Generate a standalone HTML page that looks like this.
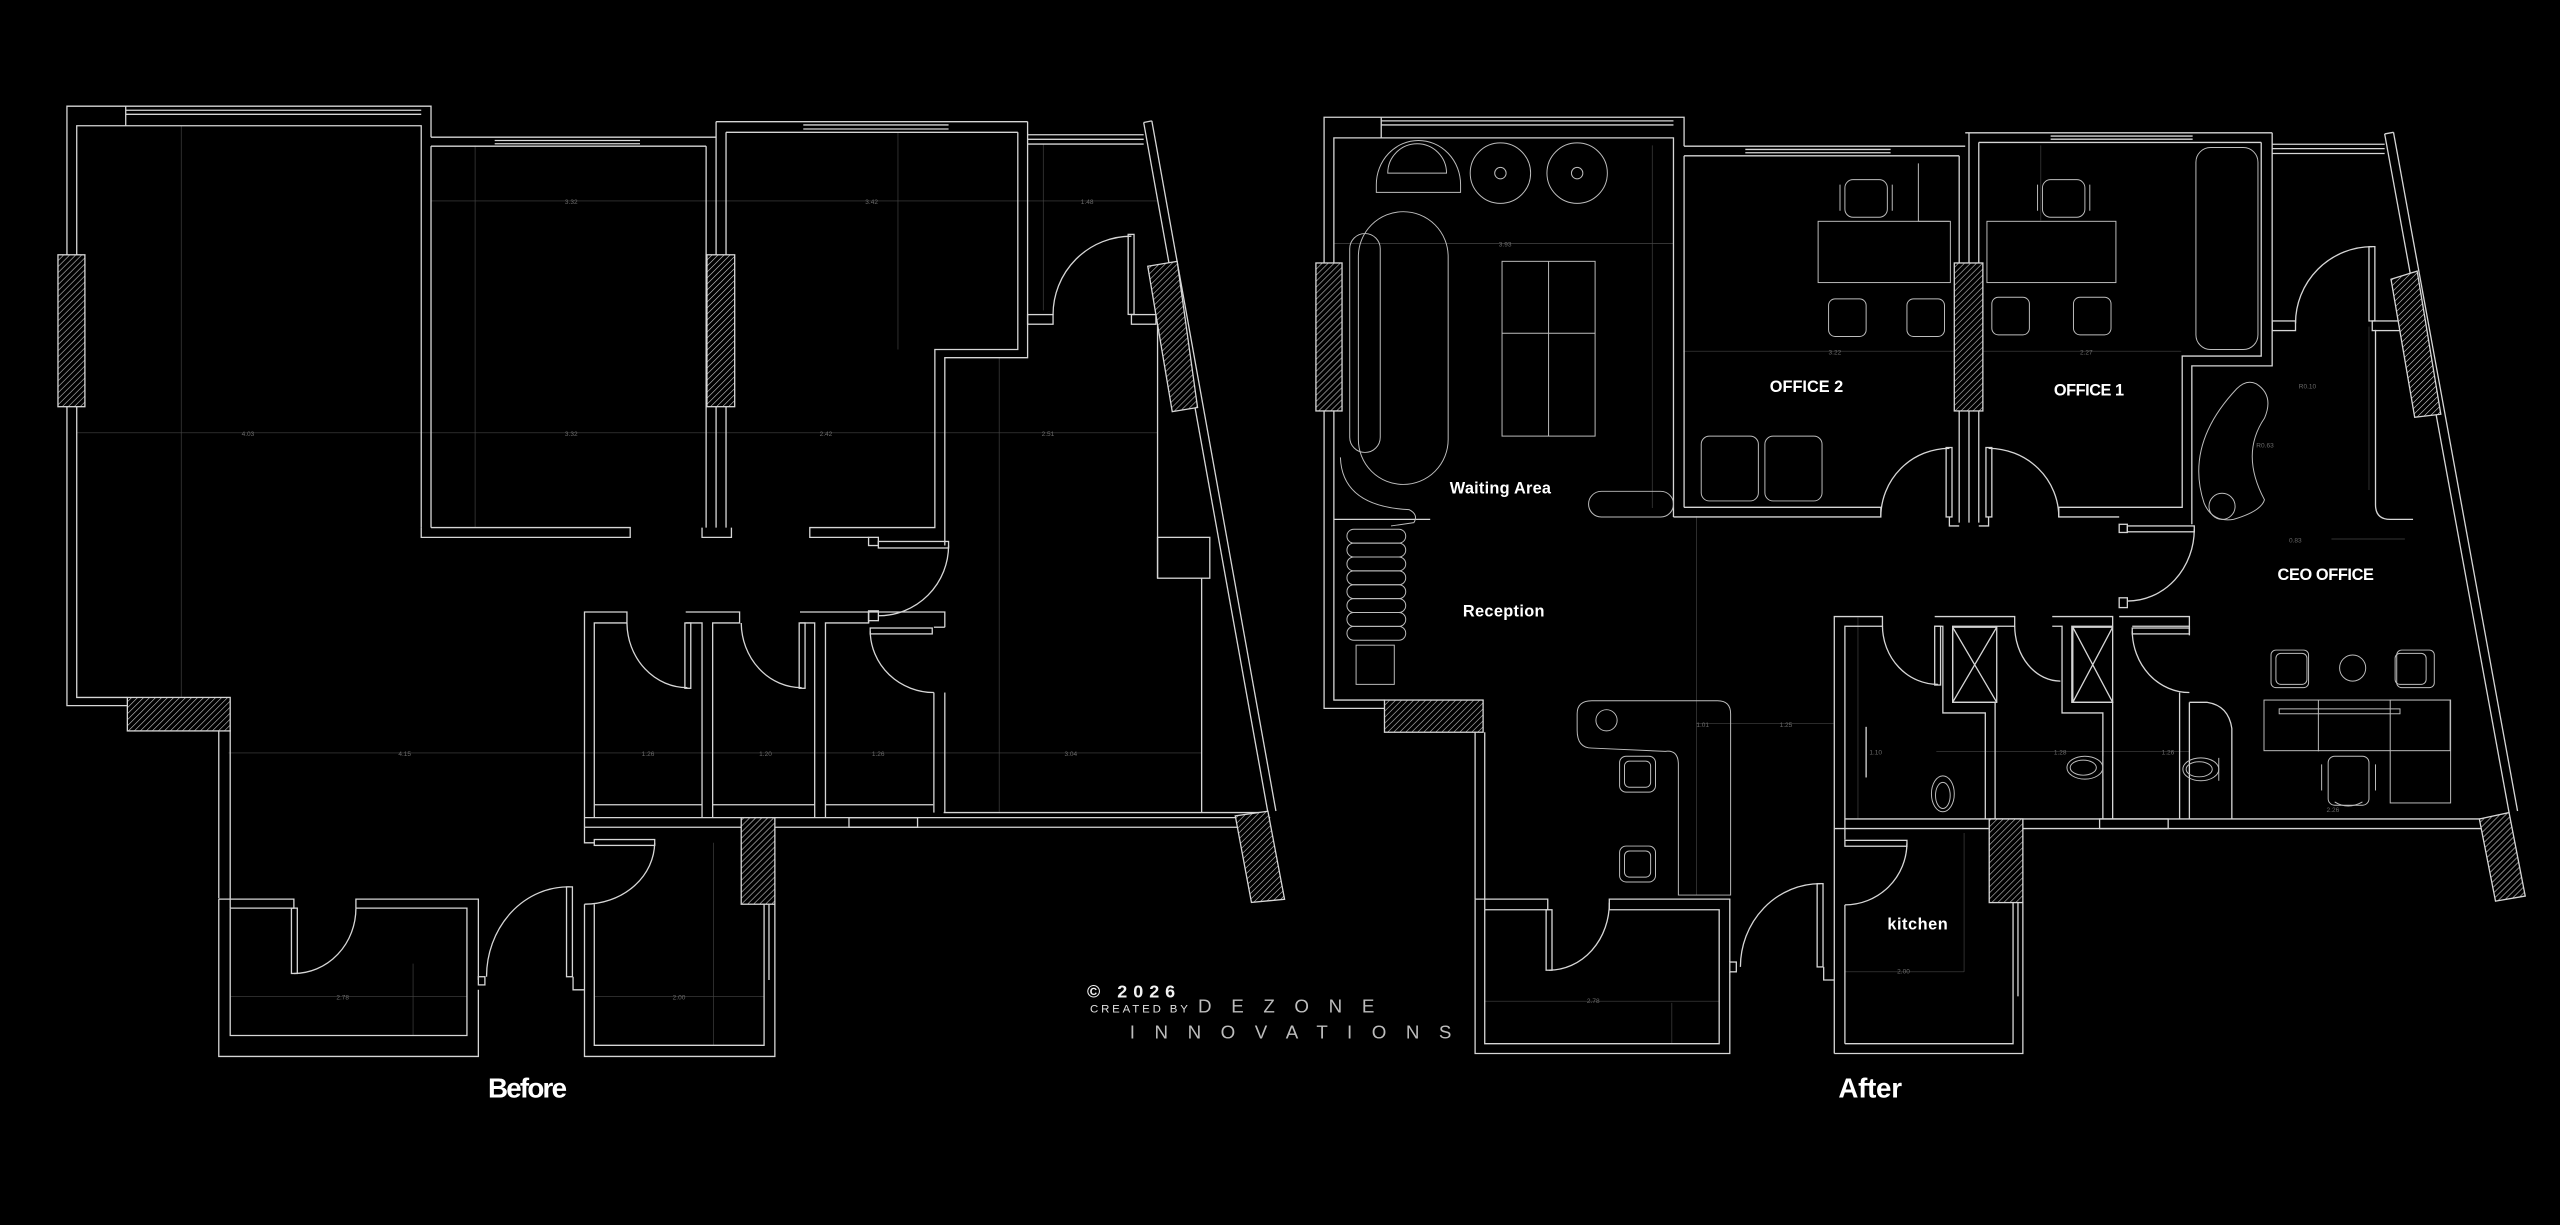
<!DOCTYPE html>
<html><head><meta charset="utf-8"><style>
html,body{margin:0;padding:0;background:#000;}
svg{display:block}
</style></head><body>
<svg width="2560" height="1225" viewBox="0 0 1568 750" xmlns="http://www.w3.org/2000/svg" preserveAspectRatio="none">
<defs>
<pattern id="h" patternUnits="userSpaceOnUse" width="2.6" height="2.6" patternTransform="rotate(45)">
<rect width="2.6" height="2.6" fill="#000"/><line x1="0" y1="0" x2="0" y2="2.6" stroke="#cfcfcf" stroke-width="0.7"/>
</pattern>
</defs>
<rect width="1568" height="750" fill="#000"/>

<!-- ===================== BEFORE ===================== -->
<g fill="none" stroke="#454545" stroke-width="0.4">
<line x1="47" y1="265" x2="709" y2="265"/>
<line x1="111" y1="77" x2="111" y2="427"/>
<line x1="264" y1="123" x2="709" y2="123"/>
<line x1="140" y1="461" x2="736" y2="461"/>
<line x1="291" y1="89" x2="291" y2="323"/>
<line x1="550" y1="81" x2="550" y2="214"/>
<line x1="639" y1="88" x2="639" y2="190"/>
<line x1="612" y1="219" x2="612" y2="497"/>
<line x1="253" y1="590" x2="253" y2="634"/>
<line x1="141" y1="610" x2="286" y2="610"/>
<line x1="364" y1="610" x2="468" y2="610"/>
<line x1="437" y1="516" x2="437" y2="640"/>
</g>
<g fill="#6a6a6a" font-family="Liberation Sans, sans-serif" font-size="4">
<text x="148" y="267">4.03</text><text x="346" y="267">3.32</text><text x="502" y="267">2.42</text><text x="638" y="267">2.51</text>
<text x="346" y="125">3.32</text><text x="530" y="125">3.42</text><text x="662" y="125">1.48</text>
<text x="244" y="463">4.15</text><text x="393" y="463">1.26</text><text x="465" y="463">1.20</text><text x="534" y="463">1.26</text><text x="652" y="463">3.04</text>
<text x="206" y="612">2.78</text><text x="412" y="612">2.00</text>
</g>
<g fill="none" stroke="#d6d6d6" stroke-width="0.8">
<!-- big left room -->
<polyline points="78,432 41,432 41,65 264,65 264,84"/>
<polyline points="78,427 47,427 47,77 258,77 258,323"/>
<line x1="77" y1="67.5" x2="258" y2="67.5"/><line x1="77" y1="70" x2="258" y2="70"/><line x1="77" y1="65" x2="77" y2="77"/>
<polyline points="134,447 134,550"/><polyline points="141,447 141,556"/>
<!-- middle room -->
<polyline points="264,84 438.6,84"/><line x1="264" y1="89.5" x2="432.5" y2="89.5"/>
<line x1="303" y1="86" x2="392" y2="86"/><line x1="303" y1="88" x2="392" y2="88"/>
<line x1="264" y1="89.5" x2="264" y2="323"/>
<line x1="432.5" y1="89.5" x2="432.5" y2="323"/><line x1="438.6" y1="74.5" x2="438.6" y2="323"/><line x1="444.7" y1="81" x2="444.7" y2="323"/>
<polyline points="264,323 386,323 386,329 258,329 258,323"/>
<polyline points="430,323 430,329 448,329 448,323"/>
<!-- room 2 -->
<line x1="438.6" y1="74.5" x2="629.4" y2="74.5"/><line x1="444.7" y1="81" x2="623.4" y2="81"/>
<line x1="492" y1="76.5" x2="581" y2="76.5"/><line x1="492" y1="79" x2="581" y2="79"/>
<polyline points="623.4,81 623.4,214 572.6,214 572.6,323 496,323 496,329 532,329"/>
<polyline points="629.4,74.5 629.4,219 578.7,219 578.7,334"/>
<!-- railing & slanted wall -->
<line x1="629.4" y1="82.5" x2="700.5" y2="82.5"/><line x1="629.4" y1="85.3" x2="700.5" y2="85.3"/><line x1="629.4" y1="88.2" x2="700.5" y2="88.2"/>
<line x1="700.5" y1="75" x2="776.6" y2="497.5"/><line x1="705.5" y1="74" x2="781.5" y2="496.5"/>
<line x1="700.5" y1="75" x2="705.5" y2="74"/>
<!-- entry door -->
<rect x="629.4" y="192.6" width="15.6" height="5.9"/><rect x="693" y="192.6" width="15" height="5.9"/>
<rect x="691" y="143.5" width="3.6" height="49"/>
<path d="M645,192.6 A48,48 0 0 1 693,144.6"/>
<!-- right inner -->
<line x1="709" y1="198.5" x2="709" y2="354"/><rect x="709" y="329" width="32" height="25"/>
<line x1="736" y1="354" x2="736" y2="497.5"/>
<!-- corridor door -->
<rect x="532" y="329" width="6" height="5"/><rect x="538" y="331.5" width="43" height="4"/>
<path d="M581,334 A43,43 0 0 1 538,377"/>
<rect x="532" y="374" width="6" height="6"/>
<!-- bottom walls -->
<line x1="578" y1="497.5" x2="776" y2="497.5"/>
<line x1="358" y1="500.6" x2="778" y2="500.6"/>
<line x1="358" y1="506.5" x2="454" y2="506.5"/><line x1="474.6" y1="506.5" x2="760" y2="506.5"/>
<rect x="520" y="500.6" width="42" height="5.9"/>
<!-- bathrooms -->
<polyline points="358,506.5 358,374.7 384,374.7 384,381.4 364,381.4 364,500.6"/>
<polyline points="420,381.4 430,381.4 430,500.6"/><polyline points="420,374.7 453,374.7 453,381.4 436.5,381.4 436.5,500.6"/>
<polyline points="490,381.4 499,381.4 499,500.6"/><polyline points="490,374.7 532,374.7 532,381.4 505.6,381.4 505.6,500.6"/>
<polyline points="532,381.4 532,374.7 578.7,374.7 578.7,384"/>
<line x1="572" y1="384" x2="578.7" y2="384"/>
<polyline points="572,424 572,497.5"/><polyline points="578.7,424 578.7,497.5"/>
<line x1="364" y1="492.7" x2="430" y2="492.7"/><line x1="436.5" y1="492.7" x2="499" y2="492.7"/><line x1="505.6" y1="492.7" x2="571.6" y2="492.7"/>
<rect x="419.5" y="381.4" width="3.6" height="40"/><path d="M384,381.4 A37,40 0 0 0 421,421"/>
<rect x="489.5" y="381.4" width="3.6" height="40"/><path d="M454,381.4 A37,40 0 0 0 491,421"/>
<rect x="533" y="384.5" width="38" height="3.6"/><path d="M533,386.5 A39,38 0 0 0 572,424"/>
<!-- lower left room -->
<polyline points="134,550.5 180,550.5 180,556 141,556"/>
<polyline points="218,556 218,550.5 293,550.5 293,600"/>
<polyline points="141,556 141,634 286,634 286,556 218,556"/>
<polyline points="134,550.5 134,646.8 293,646.8 293,606"/>
<rect x="178.5" y="556" width="3.6" height="40"/><path d="M180,596 A38,40 0 0 0 218,556"/>
<rect x="293" y="598" width="4" height="5"/>
<!-- lower middle room -->
<rect x="347" y="543" width="3.6" height="55"/><path d="M349,543 A50,55 0 0 0 298,598"/>
<polyline points="351,598 351,606 358,606"/>
<polyline points="358,553.6 358,646.8 474.6,646.8 474.6,553.6"/>
<polyline points="364,553.6 364,640 468,640 468,553.6"/>
<polyline points="358,506.5 358,516 364,516"/>
<rect x="364" y="514" width="37" height="3.6"/><path d="M401,516 A43,38 0 0 1 358,553.6"/>
<line x1="471" y1="553.6" x2="471" y2="600"/>
</g>
<g stroke="#d6d6d6" stroke-width="0.8" fill="url(#h)">
<rect x="35.5" y="156" width="16.5" height="93"/>
<rect x="433" y="156" width="17" height="93"/>
<rect x="78" y="427" width="63" height="20.5"/>
<rect x="454" y="500.6" width="20.6" height="53"/>
<polygon points="703,163 721,160 733.5,249.5 718,252"/>
<polygon points="756.6,499.5 776.6,496.7 786.8,550.6 766.5,552.5"/>
</g>

<!-- ===================== AFTER ===================== -->
<g fill="none" stroke="#454545" stroke-width="0.4">
<line x1="817" y1="149" x2="1025" y2="149"/>
<line x1="1031" y1="215" x2="1336" y2="215"/>
<line x1="1039" y1="443" x2="1123" y2="443"/>
<line x1="1186" y1="460" x2="1341" y2="460"/>
<line x1="1039" y1="316" x2="1039" y2="548"/>
<line x1="1012" y1="89" x2="1012" y2="311"/>
<line x1="1250" y1="89" x2="1250" y2="135"/>
<line x1="1451" y1="200" x2="1451" y2="300"/>
<line x1="1428" y1="330" x2="1473" y2="330"/>
<line x1="1024" y1="614" x2="1024" y2="639"/>
<line x1="909" y1="613" x2="1053" y2="613"/>
<line x1="1130" y1="595" x2="1203" y2="595"/>
<line x1="1203" y1="510" x2="1203" y2="595"/>
<line x1="1138" y1="378" x2="1138" y2="501"/>
</g>
<g fill="#6a6a6a" font-family="Liberation Sans, sans-serif" font-size="4">
<text x="918" y="151">3.93</text><text x="1120" y="217">3.22</text><text x="1274" y="217">2.27</text>
<text x="1039" y="445">1.01</text><text x="1090" y="445">1.25</text><text x="1145" y="462">1.10</text><text x="1258" y="462">1.28</text><text x="1324" y="462">1.26</text>
<text x="1402" y="332">0.83</text><text x="1425" y="497">2.26</text><text x="972" y="614">2.78</text><text x="1162" y="596">2.00</text>
<text x="1408" y="238">R0.10</text><text x="1382" y="274">R0.63</text>
</g>
<g fill="none" stroke="#d6d6d6" stroke-width="0.8">
<!-- waiting room shell -->
<polyline points="848,433.7 811,433.7 811,71.8 1031.5,71.8 1031.5,89.5"/>
<polyline points="848,428.6 817,428.6 817,84.4 1025,84.4 1025,316.5"/>
<line x1="846" y1="74" x2="1025" y2="74"/><line x1="846" y1="76.5" x2="1025" y2="76.5"/><line x1="846" y1="71.8" x2="846" y2="84.4"/>
<line x1="903.5" y1="448.3" x2="903.5" y2="550.5"/><line x1="909.4" y1="448.3" x2="909.4" y2="557"/>
<line x1="817" y1="318" x2="876" y2="318"/>
<!-- office 2 -->
<line x1="1031.5" y1="89.5" x2="1203.7" y2="89.5"/><line x1="1031.5" y1="95.4" x2="1200" y2="95.4"/>
<line x1="1069" y1="91.5" x2="1158" y2="91.5"/><line x1="1069" y1="93.5" x2="1158" y2="93.5"/>
<line x1="1031.5" y1="95.4" x2="1031.5" y2="310.6"/>
<polyline points="1031.5,310.6 1152,310.6 1152,316.5 1025,316.5"/>
<line x1="1200" y1="95.4" x2="1200" y2="320"/><line x1="1206" y1="81.3" x2="1206" y2="320"/><line x1="1212" y1="87.2" x2="1212" y2="320"/>
<polyline points="1194,316.5 1194,322 1200,322"/><polyline points="1212,322 1218,322 1218,316.5"/>
<!-- office 1 -->
<line x1="1203.7" y1="81.3" x2="1391.7" y2="81.3"/><line x1="1212" y1="87.2" x2="1385" y2="87.2"/>
<line x1="1256" y1="83.3" x2="1343" y2="83.3"/><line x1="1256" y1="85.2" x2="1343" y2="85.2"/>
<polyline points="1385,87.2 1385,218 1336.6,218 1336.6,310.6 1261,310.6 1261,316.5 1298,316.5"/>
<polyline points="1391.7,81.3 1391.7,224 1342.5,224 1342.5,321"/>
<!-- doors offices -->
<rect x="1192" y="274" width="3.6" height="42.5"/><path d="M1152,316.5 A42,42 0 0 1 1194,274.5"/>
<rect x="1216.4" y="274" width="3.6" height="42.5"/><path d="M1218,274.5 A43,42 0 0 1 1261,316.5"/>
<!-- CEO door -->
<rect x="1298" y="321" width="5" height="5"/><rect x="1303" y="322" width="41" height="3.6"/>
<path d="M1344,324 A41,44 0 0 1 1303,368"/><rect x="1298" y="366" width="5" height="6"/>
<!-- railing & slanted -->
<line x1="1391.7" y1="88.3" x2="1460.6" y2="88.3"/><line x1="1391.7" y1="91" x2="1460.6" y2="91"/><line x1="1391.7" y1="94" x2="1460.6" y2="94"/>
<line x1="1460.6" y1="82" x2="1536.8" y2="497.5"/><line x1="1466" y1="81" x2="1542" y2="496.5"/><line x1="1460.6" y1="82" x2="1466" y2="81"/>
<!-- entry -->
<rect x="1391.7" y="196.5" width="14.3" height="5.9"/><rect x="1453" y="196.5" width="17" height="5.9"/>
<rect x="1451" y="151" width="3.6" height="45.5"/><path d="M1406,198 A47,47 0 0 1 1453,151"/>
<path d="M1455,202 L1455,309 Q1455,318 1464,318 L1478,318"/>
<!-- bottom -->
<line x1="1130" y1="501.4" x2="1536" y2="501.4"/><line x1="1239" y1="507.3" x2="1520" y2="507.3"/>
<rect x="1286" y="501.4" width="42" height="5.9"/>
<!-- bathrooms -->
<polyline points="1123.5,645 1123.5,377.5 1153,377.5 1153,383.4 1130,383.4 1130,501.4"/>
<polyline points="1185,383.4 1190,383.4 1190,436.5 1216,436.5 1216,501.4"/>
<polyline points="1185,377.5 1234,377.5 1234,383.4 1196,383.4 1196,430 1222,430 1222,501.4"/>
<polyline points="1257,383.4 1263,383.4 1263,436.5 1288,436.5 1288,501.4"/>
<polyline points="1257,377.5 1294,377.5 1294,383.4 1269,383.4 1269,430 1294,430 1294,501.4"/>
<polyline points="1298,377.5 1341,377.5 1341,383.4 1306,383.4"/>
<line x1="1341" y1="383.4" x2="1341" y2="389"/>
<path d="M1335,424 L1335,501.4 M1341,430 L1341,501.4 M1341,430 L1352,430 Q1365,432 1367,446 L1367,501.4"/>
<rect x="1196" y="384" width="27" height="46"/><path d="M1196,384 L1223,430 M1223,384 L1196,430"/>
<rect x="1269.6" y="384" width="24.4" height="46"/><path d="M1269.6,384 L1294,430 M1294,384 L1269.6,430"/>
<path d="M1153,383.4 A34,36 0 0 0 1187,419"/><rect x="1185" y="383.4" width="3.6" height="36"/>
<path d="M1234,383.4 A28,34 0 0 0 1262,417"/>
<rect x="1306" y="384.5" width="35" height="3.6"/><path d="M1306,386.5 A35,38 0 0 0 1341,424"/>
<line x1="1143" y1="445" x2="1143" y2="476"/>
<!-- kitchen -->
<line x1="1130" y1="501.4" x2="1130" y2="514"/><line x1="1130" y1="554" x2="1130" y2="639"/>
<polyline points="1123.5,645 1239,645 1239,552.6"/><polyline points="1130,639 1233,639 1233,552.6"/>
<line x1="1123.5" y1="507.3" x2="1218" y2="507.3"/>
<rect x="1130" y="514.5" width="38" height="3.6"/><path d="M1168,516.4 A38,38 0 0 1 1130,554"/>
<line x1="1236" y1="552.6" x2="1236" y2="610"/>
<!-- lower-left -->
<rect x="1113" y="541" width="3.6" height="51"/><path d="M1115,541 A49,51 0 0 0 1066,592"/>
<polyline points="1117,592 1117,600 1123.5,600"/><rect x="1059.5" y="589" width="4" height="6"/>
<polyline points="903.5,550.5 948,550.5 948,557 909.4,557"/>
<polyline points="985.7,557 985.7,550.5 1059.5,550.5 1059.5,589"/>
<polyline points="1059.5,595 1059.5,645 903.5,645 903.5,550.5"/>
<polyline points="909.4,557 909.4,639 1053,639 1053,557 985.7,557"/>
<rect x="947" y="557" width="3.6" height="37"/><path d="M948.8,594 A37,41 0 0 0 985.7,552.6"/>
</g>
<g stroke="#d6d6d6" stroke-width="0.8" fill="url(#h)">
<rect x="806" y="161" width="16" height="90.6"/>
<rect x="1197" y="161" width="17.5" height="90.6"/>
<rect x="848" y="428.6" width="60.4" height="19.7"/>
<rect x="1218.4" y="501.4" width="20.6" height="51.2"/>
<polygon points="1464.5,171 1480.5,166 1495,253.6 1479,255.5"/>
<polygon points="1518.6,501.4 1536.8,497.5 1546.7,548.6 1528.5,551.7"/>
</g>

<!-- furniture -->
<g fill="none" stroke="#bdbdbd" stroke-width="0.6">
<path d="M843,117.8 L894.6,117.8 L894.6,113 A25.8,27 0 0 0 843,113 Z"/>
<path d="M850,106 A18,18 0 0 1 886,106 Z"/>
<circle cx="919" cy="106" r="18.5"/><circle cx="919" cy="106" r="3.5"/>
<circle cx="966" cy="106" r="18.5"/><circle cx="966" cy="106" r="3.5"/>
<rect x="832" y="129.6" width="55" height="167" rx="27.5"/>
<rect x="826.7" y="143" width="18.7" height="134" rx="9.3"/>
<path d="M821,280 Q822,310 863,312 Q869,315 866,320 L852,322"/>
<rect x="920" y="160" width="57" height="107"/><line x1="948.5" y1="160" x2="948.5" y2="267"/><line x1="920" y1="204" x2="977" y2="204"/>
<rect x="973" y="300.8" width="52" height="15.7" rx="7.8"/>
<g>
<rect x="825" y="324" width="36" height="8.5" rx="4.2"/><rect x="825" y="332.5" width="36" height="8.5" rx="4.2"/>
<rect x="825" y="341" width="36" height="8.5" rx="4.2"/><rect x="825" y="349.5" width="36" height="8.5" rx="4.2"/>
<rect x="825" y="358" width="36" height="8.5" rx="4.2"/><rect x="825" y="366.5" width="36" height="8.5" rx="4.2"/>
<rect x="825" y="375" width="36" height="8.5" rx="4.2"/><rect x="825" y="383.5" width="36" height="8.5" rx="4.2"/>
</g>
<rect x="830.6" y="395" width="23.4" height="24"/>
<!-- reception desk -->
<path d="M975,458 Q966,458 966,447 L966,437 Q966,429 975,429 L1052,429 Q1060,429 1060,437 L1060,548 L1028,548 L1028,468 Q1028,459 1020,460 L975,458"/>
<circle cx="984" cy="441" r="6.5"/>
<rect x="992" y="463" width="22" height="22" rx="4"/><rect x="995" y="466" width="16" height="16" rx="3"/>
<rect x="992" y="518" width="22" height="22" rx="4"/><rect x="995" y="521" width="16" height="16" rx="3"/>
<!-- office 2 -->
<rect x="1130" y="110" width="26" height="23" rx="5"/><path d="M1127,113 L1127,129 M1159,113 L1159,129"/>
<rect x="1113.6" y="135.5" width="81" height="37.5"/><path d="M1175,100 L1175,135.5 L1194,135.5"/>
<rect x="1120" y="183" width="23" height="23" rx="4"/><rect x="1168" y="183" width="23" height="23" rx="4"/>
<rect x="1042" y="267" width="35" height="39.7" rx="5"/><rect x="1081" y="267" width="35" height="39.7" rx="5"/>
<!-- office 1 -->
<rect x="1251" y="110" width="26" height="23" rx="5"/><path d="M1248,113 L1248,129 M1280,113 L1280,129"/>
<rect x="1217" y="135.5" width="79" height="37.5"/>
<rect x="1220" y="182" width="23" height="23" rx="4"/><rect x="1270" y="182" width="23" height="23" rx="4"/>
<rect x="1345" y="90.3" width="38" height="123.7" rx="9"/>
<!-- CEO -->
<path d="M1382,235 Q1393,242 1387,256 Q1372,278 1387,306 Q1385,313 1368,318 Q1355,320 1350,308 Q1338,272 1370,238 Q1376,232 1382,235 Z"/>
<circle cx="1361" cy="310" r="8"/>
<rect x="1388" y="644" width="0" height="0"/>
<rect x="1387" y="643" width="0" height="0"/>
<rect x="1389" y="642" width="0" height="0"/>
<rect x="1388" y="643" width="0" height="0"/>
<rect x="1388" y="643" width="0" height="0"/>
<rect x="1388" y="643" width="0" height="0"/>
<rect x="1388" y="645" width="0" height="0"/>
<rect x="1388" y="644" width="0" height="0"/>
<rect x="1388" y="643" width="0" height="0"/>
<rect x="1388" y="643" width="0" height="0"/>
<rect x="1388" y="643" width="0" height="0"/>
<rect x="1391" y="398" width="23" height="23" rx="3"/><rect x="1394" y="400" width="19" height="19" rx="3"/>
<rect x="1468" y="398" width="23" height="23" rx="3"/><rect x="1467" y="400" width="19" height="19" rx="3"/>
<circle cx="1441" cy="409" r="8"/>
<rect x="1386.7" y="428.6" width="114" height="31"/><line x1="1420" y1="428.6" x2="1420" y2="460"/>
<rect x="1396" y="434" width="74" height="3"/>
<rect x="1464" y="428.6" width="37" height="63"/>
<rect x="1426" y="463" width="25" height="30" rx="4"/><path d="M1422,468 L1422,484 M1455,468 L1455,484"/>
<path d="M1430,491 Q1438,496 1447,491"/>
<!-- toilets -->
<ellipse cx="1190" cy="486" rx="7" ry="11"/><ellipse cx="1190" cy="487" rx="4.5" ry="8"/>
<ellipse cx="1277" cy="470" rx="11" ry="7"/><ellipse cx="1276" cy="470" rx="8" ry="4.6"/><path d="M1288,463 L1288,477"/>
<ellipse cx="1348" cy="471" rx="11" ry="7"/><ellipse cx="1347" cy="471" rx="8" ry="4.6"/><path d="M1359,464 L1359,478"/>
</g>

<!-- labels -->
<g fill="#ffffff" font-family="Liberation Sans, sans-serif" font-weight="bold">
<text x="888" y="302" font-size="10" textLength="62">Waiting Area</text>
<text x="896" y="377.5" font-size="10" textLength="50">Reception</text>
<text x="1084" y="240" font-size="10" textLength="45">OFFICE 2</text>
<text x="1258" y="242" font-size="10" textLength="43">OFFICE 1</text>
<text x="1395" y="355" font-size="10" textLength="59">CEO OFFICE</text>
<text x="1156" y="569" font-size="10" textLength="37">kitchen</text>
<text x="298.9" y="672" font-size="17" textLength="48.4">Before</text>
<text x="1126" y="672" font-size="17" textLength="39">After</text>
</g>
<g font-family="Liberation Sans, sans-serif">
<text x="665.8" y="610.6" font-size="11" fill="#f2f2f2" font-weight="bold" textLength="54">© 2026</text>
<text x="667.6" y="620" font-size="7" fill="#e0e0e0" textLength="60">CREATED BY</text>
<text x="733.8" y="620" font-size="11.5" fill="#bdbdbd" textLength="108">D E Z O N E</text>
<text x="692" y="635.8" font-size="11.5" fill="#bdbdbd" textLength="197">I N N O V A T I O N S</text>
</g>
</svg>
</body></html>
